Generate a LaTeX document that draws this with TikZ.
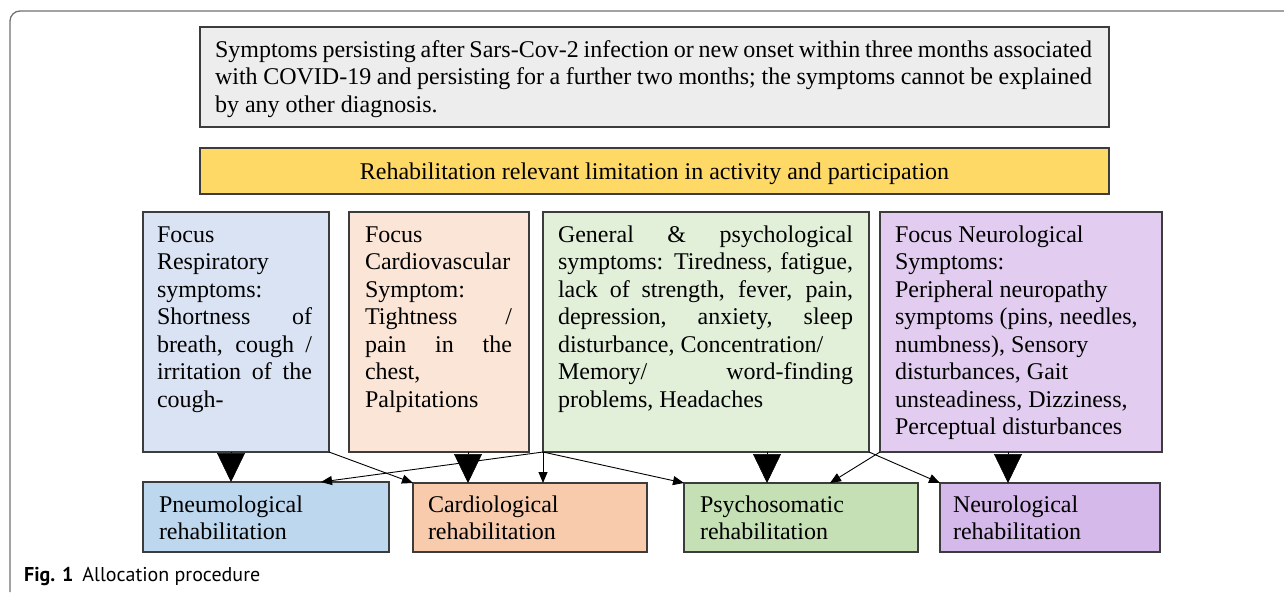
\documentclass[tikz,border=0pt]{standalone}
\usepackage{fontspec}
\setmainfont{Liberation Serif}
\newfontfamily\capfont{PT Sans}
\usetikzlibrary{arrows.meta,calc}
\definecolor{boxline}{HTML}{3C3C3C}
\definecolor{framecol}{HTML}{707070}
\definecolor{graybox}{HTML}{EDEDED}
\definecolor{yellowbox}{HTML}{FFD966}
\definecolor{bluelight}{HTML}{DAE3F3}
\definecolor{orangelight}{HTML}{FBE5D6}
\definecolor{greenlight}{HTML}{E2F0D9}
\definecolor{purplelight}{HTML}{E2CDF0}
\definecolor{bluemid}{HTML}{BDD7EE}
\definecolor{orangemid}{HTML}{F8CBAD}
\definecolor{greenmid}{HTML}{C5E0B4}
\definecolor{purplemid}{HTML}{D5B9EA}
\begin{document}
\begin{tikzpicture}[x=1pt,y=-1pt,
  boxshape/.style={draw=boxline, line width=1.3pt, inner sep=0pt, outer sep=0pt, anchor=north west},
  txt/.style={inner sep=0pt, outer sep=0pt, anchor=north west, align=left, font=\fontsize{24}{27.5}\selectfont},
  conn/.style={draw=black, line width=0.9pt, -{Triangle[length=11pt 0,width=9pt 0]}},
  fatconn/.style={draw=black, line width=0.5pt, -{Triangle[length=29pt 0,width=28pt 0]}}]
\useasboundingbox (0,0) rectangle (1284,592);
\draw[framecol, line width=1.3pt, rounded corners=10pt] (10,592) -- (10,11) -- (1290,11);

% top boxes
\node[boxshape, fill=graybox, minimum width=909pt, minimum height=100pt] (def) at (200,27) {};
\node[txt] (deftxt) at (215,37.75) {\strut\makebox[877pt][s]{Symptoms persisting after Sars-Cov-2 infection or new onset within three months associated}\\
\strut\makebox[877pt][s]{with COVID-19 and persisting for a further two months; the symptoms cannot be explained}\\
\strut by any other diagnosis.};
\node[boxshape, fill=yellowbox, minimum width=909pt, minimum height=46pt] (lim) at (200,148) {};
\node[inner sep=0pt, font=\fontsize{24}{27.5}\selectfont, text height=16pt, text depth=0pt] (limtxt) at (lim.center) {Rehabilitation relevant limitation in activity and participation};

% symptom boxes
\node[boxshape, fill=bluelight, minimum width=186pt, minimum height=240pt] (blue) at (143,212) {};
\node[boxshape, fill=orangelight, minimum width=180pt, minimum height=240pt] (orange) at (349,212) {};
\node[boxshape, fill=greenlight, minimum width=326pt, minimum height=240pt] (green) at (543,212) {};
\node[boxshape, fill=purplelight, minimum width=282pt, minimum height=240pt] (purple) at (880,212) {};

\node[txt] (bluetxt) at (157,222.75) {\strut Focus\\ \strut Respiratory\\ \strut symptoms:\\
\strut\makebox[155pt][s]{Shortness of}\\ \strut\makebox[155pt][s]{breath, cough /}\\
\strut\makebox[155pt][s]{irritation of the}\\ \strut cough-};
\node[txt] (orangetxt) at (365,222.75) {\strut Focus\\ \strut Cardiovascular\\ \strut Symptom:\\
\strut\makebox[147pt][s]{Tightness /}\\ \strut\makebox[147pt][s]{pain in the}\\
\strut chest,\\ \strut Palpitations};
\node[txt] (greentxt) at (558,222.75) {\strut\makebox[295pt][s]{General \& psychological}\\
\strut\makebox[295pt][s]{symptoms: Tiredness, fatigue,}\\
\strut\makebox[295pt][s]{lack of strength, fever, pain,}\\
\strut\makebox[295pt][s]{depression, anxiety, sleep}\\
\strut disturbance, Concentration/\\
\strut\makebox[295pt][s]{Memory/ word-finding}\\
\strut problems, Headaches};
\node[txt] (purpletxt) at (895,222.75) {\strut Focus Neurological\\ \strut Symptoms:\\ \strut Peripheral neuropathy\\
\strut symptoms (pins, needles,\\ \strut numbness), Sensory\\ \strut disturbances, Gait\\
\strut unsteadiness, Dizziness,\\ \strut Perceptual disturbances};

% rehabilitation boxes
\node[boxshape, fill=bluemid, minimum width=246pt, minimum height=70pt] (pneumo) at (143,482) {};
\node[boxshape, fill=orangemid, minimum width=234pt, minimum height=69pt] (cardio) at (413,483) {};
\node[boxshape, fill=greenmid, minimum width=234pt, minimum height=69pt] (psycho) at (684,483) {};
\node[boxshape, fill=purplemid, minimum width=220pt, minimum height=69pt] (neuro) at (940,483) {};

\node[txt] (pneumotxt) at (159,492.75) {\strut Pneumological\\ \strut rehabilitation};
\node[txt] (cardiotxt) at (428,492.75) {\strut Cardiological\\ \strut rehabilitation};
\node[txt] (psychotxt) at (700,492.75) {\strut Psychosomatic\\ \strut rehabilitation};
\node[txt] (neurotxt) at (953,492.75) {\strut Neurological\\ \strut rehabilitation};

% fat arrows
\coordinate (tb) at (231,0);
\coordinate (to) at (468,0);
\coordinate (tg) at (767,0);
\coordinate (tp) at (1008,0);
\draw[fatconn] (blue.south -| tb) -- (pneumo.north -| tb);
\draw[fatconn] (orange.south -| to) -- (cardio.north -| to);
\draw[fatconn] (green.south -| tg) -- (psycho.north -| tg);
\draw[fatconn] (purple.south -| tp) -- (neuro.north -| tp);

% thin arrows
\draw[conn] (blue.south east) -- (cardio.north west);
\draw[conn] (green.south west) -- ($(pneumo.north east)+(-68,0)$);
\draw[conn] (green.south west) -- (cardio.north -| green.south west);
\draw[conn] (green.south west) -- (psycho.north west);
\draw[conn] (purple.south west) -- ($(psycho.north east)+(-88,0)$);
\draw[conn] (green.south east) -- (neuro.north west);

% caption
\node[anchor=base west, inner sep=0pt, font=\capfont\fontsize{20}{24}\selectfont] (cap) at (24,581) {\textbf{Fig. 1}\hspace{9pt}Allocation procedure};
\end{tikzpicture}
\end{document}
